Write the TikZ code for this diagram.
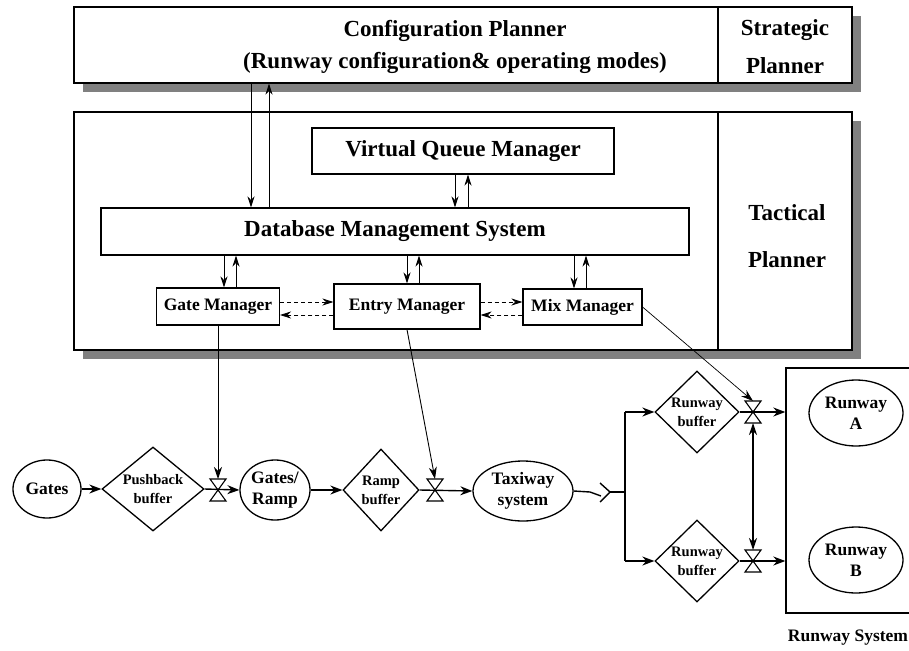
\documentclass[tikz,border=0pt]{standalone}
\usepackage{fontspec}
\setmainfont{Liberation Serif}
\usetikzlibrary{arrows.meta,shapes.geometric}
\definecolor{shadowgray}{RGB}{128,128,128}
\tikzset{
  valve/.pic={\draw[line width=1.1pt,line join=miter] (-8,-11) -- (8,-11) -- (0,0) -- cycle (-8,11) -- (8,11) -- (0,0) -- cycle;},
}
\begin{document}
\begin{tikzpicture}[x=1pt,y=-1pt,
  box/.style={draw,line width=1.1pt,fill=white,inner sep=0pt,rectangle},
  bigtxt/.style={font=\fontsize{23}{27}\selectfont\bfseries,inner sep=0pt},
  bigbase/.style={bigtxt,anchor=base},
  midtxt/.style={font=\fontsize{17.5}{21}\selectfont\bfseries,inner sep=0pt,align=center},
  smalltxt/.style={font=\fontsize{14.5}{19}\selectfont\bfseries,inner sep=0pt,align=center},
  oval/.style={draw,ellipse,line width=1.3pt,inner sep=0pt,midtxt},
  dia/.style={draw,diamond,line width=1.3pt,inner sep=0pt},
  tarrow/.style={line width=0.8pt,-{Stealth[length=11pt,width=7pt]}},
  darrow/.style={line width=0.8pt,dash pattern=on 4pt off 3pt,-{Stealth[length=11pt,width=7pt]}},
  flow/.style={line width=1.4pt,-{Stealth[length=12pt,width=9pt]}},
  ctrl/.style={line width=0.9pt,-{Stealth[length=12pt,width=8pt]}},
  plain/.style={line width=1.4pt},
]
\useasboundingbox (0,0) rectangle (909,650);
% shadows
\fill[shadowgray] (83,16) rectangle (861,92);
\fill[shadowgray] (83,121) rectangle (861,359);
% strategic
\node[box,minimum width=778pt,minimum height=76pt] (cfg) at (463,45) {};
\draw[line width=1.1pt] (cfg.north -| 718,0) -- (cfg.south -| 718,0);
\node[bigbase] (cfgt1) at (455,37) {Configuration Planner};
\node[bigbase] (cfgt2) at (455,69) {(Runway configuration\& operating modes)};
\node[bigbase] (st1) at (785,36) {Strategic};
\node[bigbase] (st2) at (785,74) {Planner};
% tactical
\node[box,minimum width=778pt,minimum height=238pt] (tac) at (463,231) {};
\draw[line width=1.1pt] (tac.north -| 718,0) -- (tac.south -| 718,0);
\node[bigbase] (tt1) at (787,220) {Tactical};
\node[bigbase] (tt2) at (787,267) {Planner};
\node[box,bigtxt,minimum width=302pt,minimum height=46pt] (vqm) at (463,151) {Virtual Queue Manager};
\node[box,bigtxt,minimum width=588pt,minimum height=47pt] (dbms) at (395,231.5) {Database Management System};
\node[box,midtxt,minimum width=123pt,minimum height=37pt] (gate) at (218,306.5) {Gate Manager};
\node[box,midtxt,minimum width=146pt,minimum height=45pt] (entry) at (407,306.5) {Entry Manager};
\node[box,midtxt,minimum width=119pt,minimum height=36pt] (mix) at (582.5,307) {Mix Manager};
% vertical arrows
\draw[tarrow] (cfg.south -| 251,0) -- (dbms.north -| 251,0);
\draw[tarrow] (dbms.north -| 269,0) -- (cfg.south -| 269,0);
\draw[tarrow] (vqm.south -| 455,0) -- (dbms.north -| 455,0);
\draw[tarrow] (dbms.north -| 468,0) -- (vqm.south -| 468,0);
\draw[tarrow] (dbms.south -| 224,0) -- (gate.north -| 224,0);
\draw[tarrow] (gate.north -| 236,0) -- (dbms.south -| 236,0);
\draw[tarrow] (dbms.south -| 407,0) -- (entry.north -| 407,0);
\draw[tarrow] (entry.north -| 419,0) -- (dbms.south -| 419,0);
\draw[tarrow] (dbms.south -| 574,0) -- (mix.north -| 574,0);
\draw[tarrow] (mix.north -| 586,0) -- (dbms.south -| 586,0);
% dashed
\draw[darrow] (gate.east |- 0,302) -- (entry.west |- 0,302);
\draw[darrow] (entry.west |- 0,315) -- (gate.east |- 0,315);
\draw[darrow] (entry.east |- 0,302) -- (mix.west |- 0,302);
\draw[darrow] (mix.west |- 0,315) -- (entry.east |- 0,315);
% bottom flow
\node[oval,minimum width=68pt,minimum height=58pt] (gates) at (47,489) {Gates};
\node[dia,minimum width=102pt,minimum height=84pt] (pb) at (153,489) {};
\node[smalltxt] (pbt) at (153,489) {Pushback\\buffer};
\coordinate (v1) at (218,490);
\coordinate (v1t) at (218,479);
\pic at (v1) {valve};
\node[oval,minimum width=70pt,minimum height=60pt] (gr) at (275,490) {Gates/\\Ramp};
\node[dia,minimum width=76pt,minimum height=82pt] (rb) at (381,490) {};
\node[smalltxt] (rbt) at (381,490) {Ramp\\buffer};
\coordinate (v2) at (435,490);
\coordinate (v2t) at (435,479);
\pic at (v2) {valve};
\node[oval,minimum width=100pt,minimum height=60pt] (tx) at (523,491) {Taxiway\\system};
\coordinate (kink) at (590,492);
\coordinate (kink2) at (601,496);
\coordinate (chev) at (610,492);
\coordinate (chevt) at (600,483);
\coordinate (chevb) at (600,502);
\coordinate (split) at (625,492);
\node[dia,minimum width=84pt,minimum height=82pt] (rbA) at (697,412) {};
\node[smalltxt] (rbAt) at (697,412) {Runway\\buffer};
\node[dia,minimum width=84pt,minimum height=82pt] (rbB) at (697,561) {};
\node[smalltxt] (rbBt) at (697,561) {Runway\\buffer};
\coordinate (vA) at (753,412);
\coordinate (vAt) at (753,401);
\coordinate (vAb) at (753,423);
\coordinate (vB) at (753,561);
\coordinate (vBt) at (753,550);
\pic at (vA) {valve};
\pic at (vB) {valve};
\node[draw,line width=1.4pt,minimum width=129pt,minimum height=245pt,inner sep=0pt] (rsys) at (850.5,490.5) {};
\node[oval,minimum width=94pt,minimum height=66pt] (rwA) at (856,413) {Runway\\A};
\node[oval,minimum width=94pt,minimum height=66pt] (rwB) at (856,560) {Runway\\B};
\node[midtxt] (rst) at (848,638) {Runway System};
% flow connectors
\draw[flow] (gates.east) -- (pb.west);
\draw[flow] (pb.east) -- (gr.west);
\draw[flow] (gr.east) -- (rb.west);
\draw[flow] (rb.east) -- (tx.west);
\draw[plain] (tx.east) -- (kink) -- (kink2);
\draw[plain] (chevt) -- (chev) -- (chevb);
\draw[plain] (chev) -- (split);
\draw[plain] (split |- rbA.west) -- (split |- rbB.west);
\draw[flow] (split |- rbA.west) -- (rbA.west);
\draw[flow] (split |- rbB.west) -- (rbB.west);
\draw[flow] (rbA.east) -- (rsys.west |- rbA.east);
\draw[flow] (rbB.east) -- (rsys.west |- rbB.east);
\draw[line width=1.4pt,{Stealth[length=12pt,width=8pt]}-{Stealth[length=12pt,width=8pt]}] (vAb) -- (vBt);
% control lines
\draw[ctrl] (gate.south) -- (v1t);
\draw[ctrl] (entry.south) -- (v2t);
\draw[ctrl,line width=0.7pt] (mix.east) -- (vAt);
\end{tikzpicture}
\end{document}
